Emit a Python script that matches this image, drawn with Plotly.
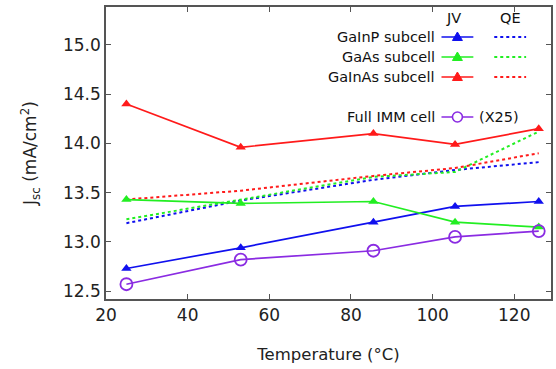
import plotly.graph_objects as go

temps = [25, 53, 85.5, 105.5, 126]
gainp_jv = [12.73, 12.94, 13.20, 13.36, 13.41]
gaas_jv = [13.43, 13.39, 13.41, 13.20, 13.15]
gainas_jv = [14.40, 13.96, 14.10, 13.99, 14.15]
full_imm = [12.57, 12.82, 12.91, 13.05, 13.11]
gainp_qe = [13.19, 13.42, 13.63, 13.73, 13.81]
gaas_qe = [13.23, 13.43, 13.66, 13.71, 14.12]
gainas_qe = [13.43, 13.52, 13.67, 13.75, 13.90]

BLUE = "#1010ee"
GREEN = "#22ee22"
RED = "#ff1a1a"
PURPLE = "#8a2be2"
FONT = "DejaVu Sans"
LFS = 14.5

fig = go.Figure()
for y, c in [(gainp_qe, BLUE), (gaas_qe, GREEN), (gainas_qe, RED)]:
    fig.add_trace(go.Scatter(x=temps, y=y, mode="lines",
                             line=dict(color=c, width=2, dash="dot"), showlegend=False))
for y, c in [(gainp_jv, BLUE), (gaas_jv, GREEN), (gainas_jv, RED)]:
    fig.add_trace(go.Scatter(x=temps, y=y, mode="lines+markers",
                             line=dict(color=c, width=1.7),
                             marker=dict(symbol="triangle-up", size=9, color=c),
                             showlegend=False))
fig.add_trace(go.Scatter(x=temps, y=full_imm, mode="lines+markers",
                         line=dict(color=PURPLE, width=1.7),
                         marker=dict(symbol="circle-open", size=12, color=PURPLE,
                                     line=dict(width=1.8, color=PURPLE)),
                         showlegend=False))

W, H = 556, 369
ml, mr, mt, mb = 106, 3, 7, 70
pw, ph = W - ml - mr, H - mt - mb

def px(xp):
    return (xp - ml) / pw

def py(yp):
    return 1 - (yp - mt) / ph

shapes = []
annotations = []

def txt(x, y, s, anchor="center"):
    annotations.append(dict(x=px(x), y=py(y), xref="paper", yref="paper", text=s,
                            xanchor=anchor, yanchor="middle", showarrow=False,
                            font=dict(size=LFS, color="#111", family=FONT)))

txt(455, 18, "JV")
txt(512, 18, "QE")
rows = [("GaInP subcell", BLUE, 37), ("GaAs subcell", GREEN, 57), ("GaInAs subcell", RED, 77)]
for name, c, yy in rows:
    txt(438, yy, name, "right")
    shapes.append(dict(type="line", xref="paper", yref="paper", x0=px(443), x1=px(475),
                       y0=py(yy), y1=py(yy), line=dict(color=c, width=1.7)))
    shapes.append(dict(type="path", xref="paper", yref="paper",
                       path=f"M {px(454)} {py(yy+3.5)} L {px(464)} {py(yy+3.5)} L {px(459)} {py(yy-5)} Z",
                       fillcolor=c, line=dict(color=c, width=1)))
    shapes.append(dict(type="line", xref="paper", yref="paper", x0=px(496), x1=px(528),
                       y0=py(yy), y1=py(yy), line=dict(color=c, width=2, dash="dot")))
txt(438, 117, "Full IMM cell", "right")
shapes.append(dict(type="line", xref="paper", yref="paper", x0=px(443), x1=px(475),
                   y0=py(117), y1=py(117), line=dict(color=PURPLE, width=1.7)))
shapes.append(dict(type="circle", xref="paper", yref="paper", x0=px(454), x1=px(464),
                   y0=py(122), y1=py(112), fillcolor="white", line=dict(color=PURPLE, width=1.6)))
txt(479, 117, "(X25)", "left")

axis_common = dict(showline=True, linecolor="#555", linewidth=1.5, mirror="allticks",
                   ticks="inside", ticklen=5, tickcolor="#555", showgrid=False, zeroline=False,
                   tickfont=dict(size=17, color="#222", family=FONT))

fig.update_layout(
    width=W, height=H,
    margin=dict(l=ml, r=mr, t=mt, b=mb),
    paper_bgcolor="white", plot_bgcolor="white",
    xaxis=dict(range=[20, 129], tickvals=[20, 40, 60, 80, 100, 120],
               title=dict(text="Temperature (°C)", font=dict(size=16.5, color="#222", family=FONT),
                          standoff=24),
               **axis_common),
    yaxis=dict(range=[12.42, 15.385], tickvals=[12.5, 13.0, 13.5, 14.0, 14.5, 15.0],
               tickformat=".1f",
               title=dict(text="J<sub>sc</sub> (mA/cm<sup>2</sup>)",
                          font=dict(size=17, color="#222", family=FONT), standoff=22),
               **axis_common),
    shapes=shapes, annotations=annotations,
)

fig.write_html("out.html")
